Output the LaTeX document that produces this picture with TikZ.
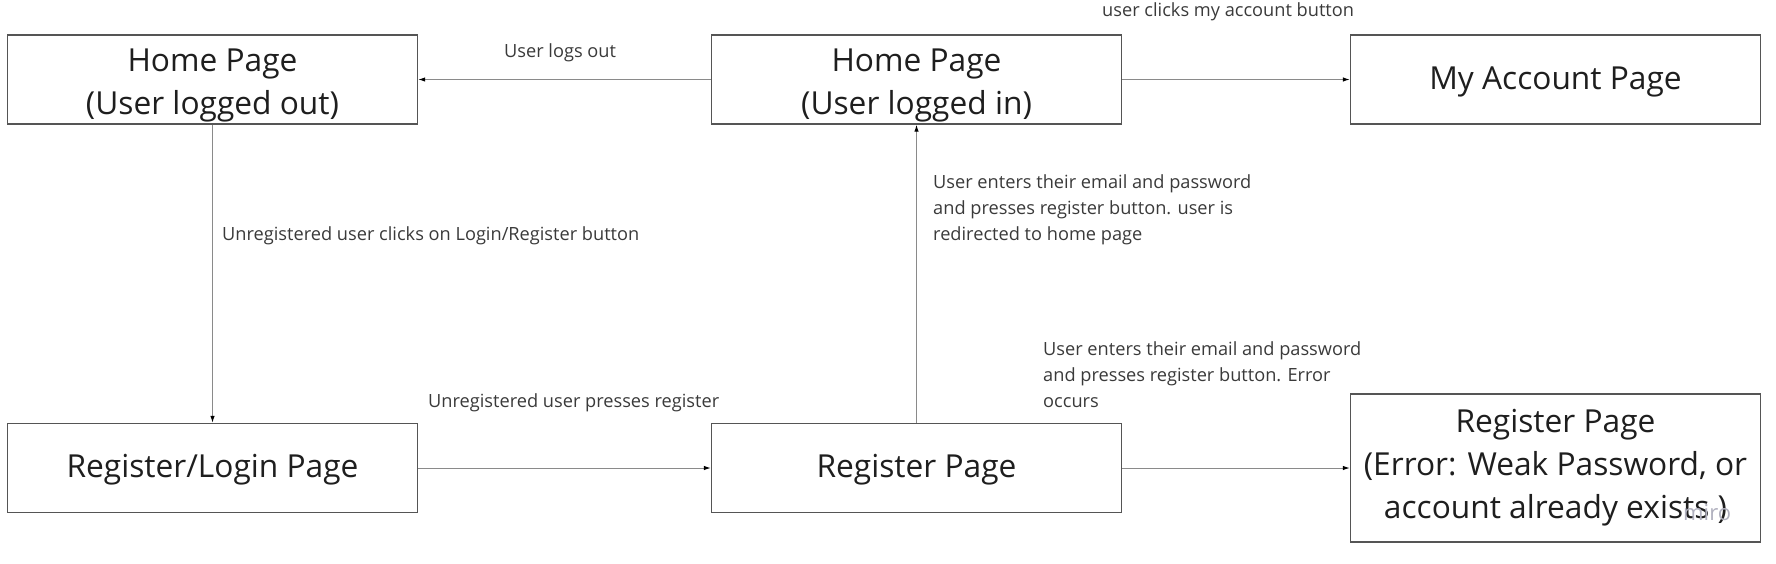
\documentclass[tikz,border=0pt]{standalone}
\usepackage{fontspec}
\setmainfont{Open Sans}
\usetikzlibrary{arrows.meta}
\definecolor{boxline}{HTML}{555555}
\definecolor{conn}{HTML}{8A8A8A}
\definecolor{boxtext}{HTML}{1E1E1E}
\definecolor{labtext}{HTML}{3A3A3A}
\definecolor{wm}{HTML}{B0B0BE}
\begin{document}
\begin{tikzpicture}[x=1pt,y=-1pt,
  pagebox/.style={draw=boxline, line width=1.4pt, minimum width=410pt, minimum height=89pt,
    inner sep=0pt, align=center, text=boxtext,
    font=\fontsize{31.7}{43}\selectfont},
  flow/.style={draw=conn, line width=1pt, -{Latex[length=7pt,width=4.5pt,black]}},
  lab/.style={anchor=base west, inner sep=0pt, align=left, text=labtext,
    font=\fontsize{18.2}{26}\selectfont}]
\useasboundingbox (0,0) rectangle (1776,563);
\node[pagebox] (hout) at (212.5,79.5) {\rule{0pt}{34pt}Home Page\\(User logged out)};
\node[pagebox] (hin) at (916.5,79.5) {\rule{0pt}{34pt}Home Page\\(User logged in)};
\node[pagebox] (myacc) at (1555.5,79.5) {\rule{0pt}{27pt}My Account Page};
\node[pagebox] (reglog) at (212.5,468) {\rule{0pt}{27pt}Register/Login Page};
\node[pagebox] (reg) at (916.5,468) {\rule{0pt}{27pt}Register Page};
\node[pagebox, minimum height=148pt] (err) at (1555.5,468) {Register Page\\(Error: Weak Password, or\\account already exists )};
\draw[flow] (hin) -- (hout);
\draw[flow] (hin) -- (myacc);
\draw[flow] (hout) -- (reglog);
\draw[flow] (reglog) -- (reg);
\draw[flow] (reg) -- (hin);
\draw[flow] (reg) -- (err);
\node[lab] (l1) at (504,57) {User logs out};
\node[lab] (l2) at (1102,16) {user clicks my account button};
\node[lab] (l3) at (222,240) {Unregistered user clicks on Login/Register button};
\node[lab] (l4) at (933,240) {User enters their email and password\\and presses register button. user is\\redirected to home page};
\node[lab] (l5) at (428,407) {Unregistered user presses register};
\node[lab] (l6) at (1043,407) {User enters their email and password\\and presses register button. Error\\occurs};
\node[anchor=base west, inner sep=0pt, text=wm, font=\fontsize{22}{22}\selectfont] (miro) at (1683,520) {miro};
\end{tikzpicture}
\end{document}
